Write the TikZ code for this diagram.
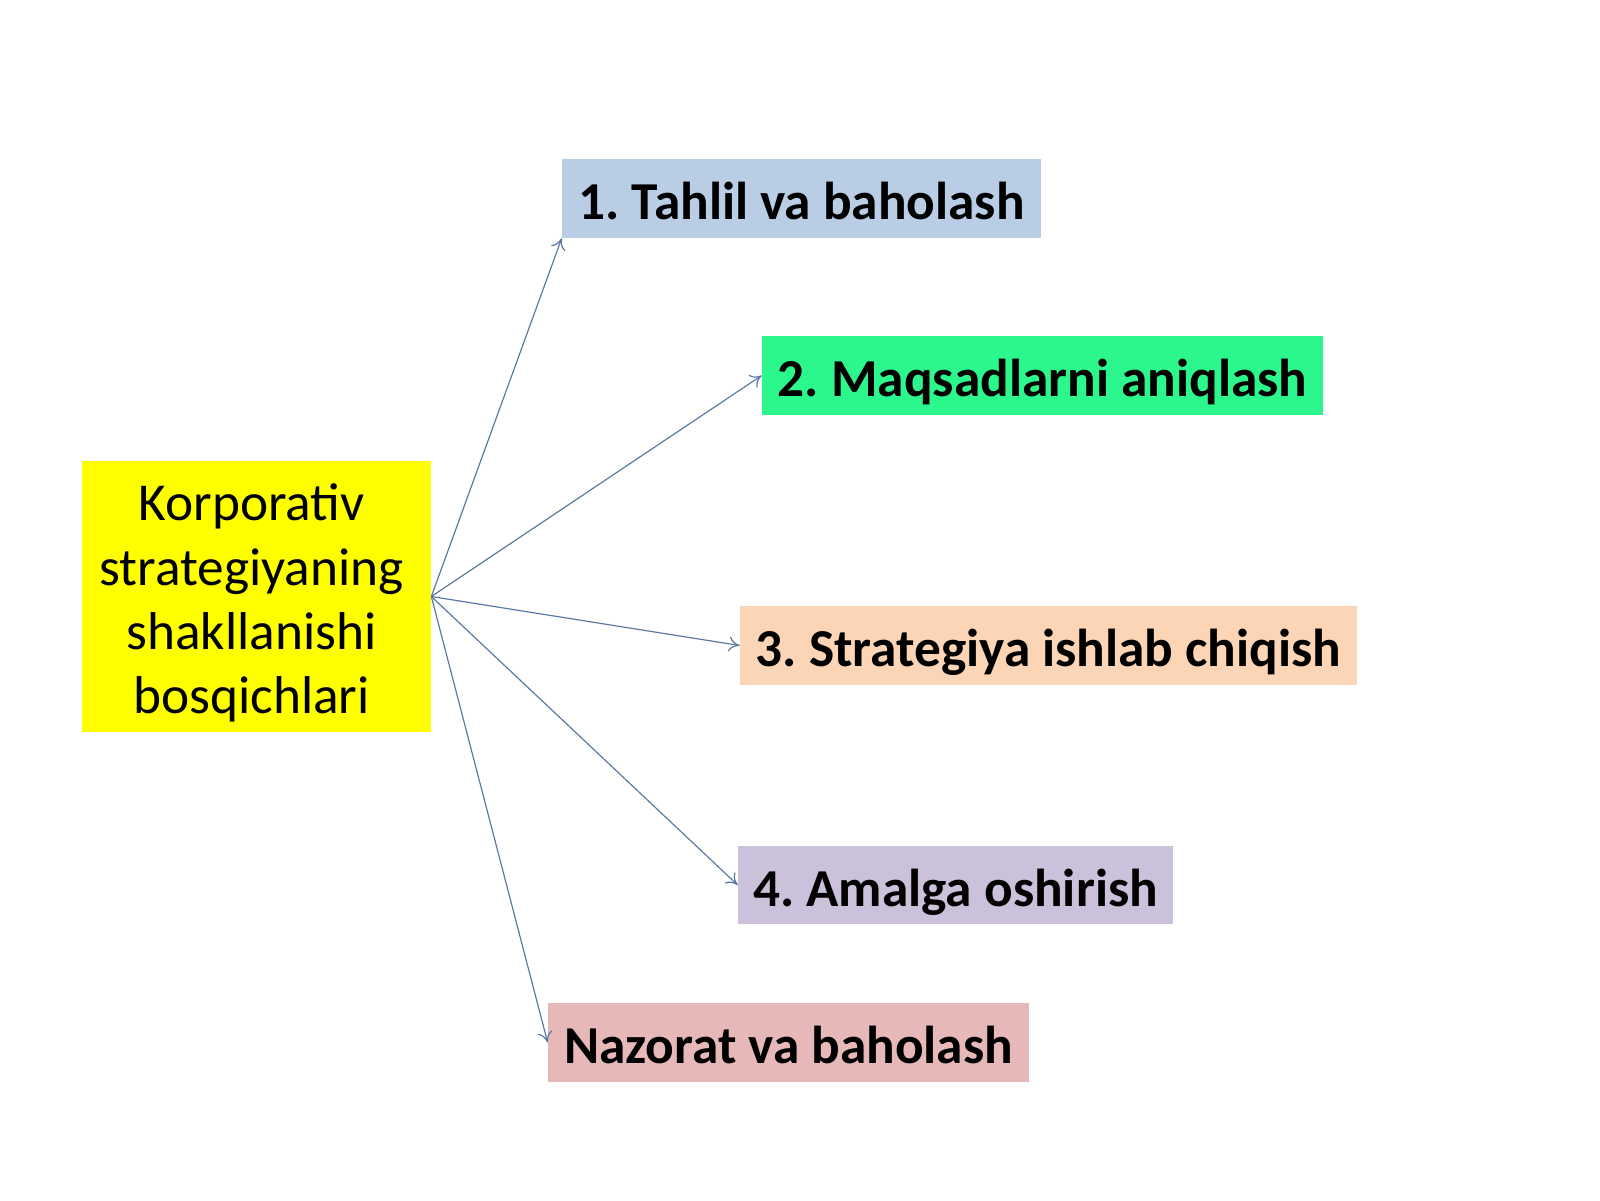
\documentclass[tikz,border=0pt]{standalone}
\usepackage{fontspec}
\setmainfont{Carlito}
\usetikzlibrary{arrows.meta}
\definecolor{bA}{HTML}{B9CDE5}
\definecolor{bB}{HTML}{2CF78C}
\definecolor{bC}{HTML}{FBD5B5}
\definecolor{bD}{HTML}{CCC1DA}
\definecolor{bE}{HTML}{E6B9B8}
\definecolor{yel}{HTML}{FFFF00}
\definecolor{lnc}{HTML}{5878A0}
\frenchspacing
\tikzset{
  stage/.style={fill=#1, inner sep=0pt, minimum height=47.4pt, text height=25.5pt, text depth=0pt, font=\fontsize{32}{39}\selectfont\bfseries, text=black},
  mainbox/.style={fill=yel, inner sep=0pt, minimum width=209.4pt, minimum height=162.6pt},
  maintxt/.style={inner sep=0pt, align=center, font=\fontsize{32}{38.6}\selectfont, text=black},
  conn/.style={draw=lnc, line width=0.7pt, -{To[length=6.5pt,width=9pt]}}
}
\begin{document}
\begin{tikzpicture}[x=0.6pt,y=-0.6pt]
\useasboundingbox[fill=white] (0,0) rectangle (1600,1200);
\node[mainbox] (main) at (256.5,596.5) {};
\node[maintxt] (maintext) at ([xshift=-3pt,yshift=-4pt]main.center) {Korporativ\\strategiyaning\\shakllanishi\\bosqichlari};
\node[stage=bA, minimum width=287.4pt] (s1) at (801.5,198.5) {1. Tahlil va baholash};
\node[stage=bB, minimum width=336.6pt] (s2) at (1042.5,375.5) {2. Maqsadlarni aniqlash};
\node[stage=bC, minimum width=370.2pt] (s3) at (1048.5,645.5) {3. Strategiya ishlab chiqish};
\node[stage=bD, minimum width=261pt, minimum height=46.8pt] (s4) at (955.5,885) {4. Amalga oshirish};
\node[stage=bE, minimum width=288.6pt] (s5) at (788.5,1042.5) {Nazorat va baholash};
\draw[conn] (main.east) -- (s1.south west);
\draw[conn] (main.east) -- (s2.west);
\draw[conn] (main.east) -- (s3.west);
\draw[conn] (main.east) -- (s4.west);
\draw[conn] (main.east) -- (s5.west);
\end{tikzpicture}
\end{document}
